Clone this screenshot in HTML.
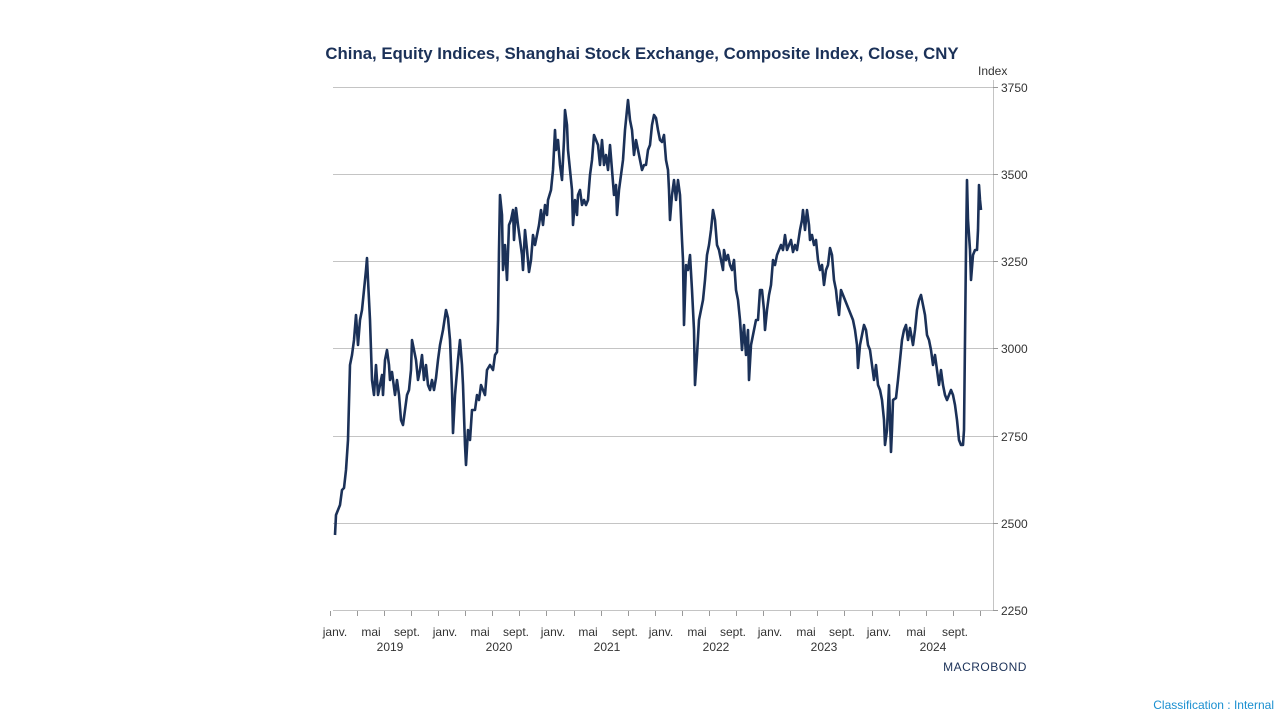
<!DOCTYPE html>
<html><head><meta charset="utf-8"><style>
body{margin:0;background:#fff;width:1280px;height:720px;overflow:hidden;font-family:"Liberation Sans",sans-serif}
</style></head><body>
<svg width="1280" height="720" xmlns="http://www.w3.org/2000/svg" font-family="Liberation Sans, sans-serif">
<text x="642" y="59" text-anchor="middle" font-size="16.8" font-weight="bold" fill="#1b3158">China, Equity Indices, Shanghai Stock Exchange, Composite Index, Close, CNY</text>
<text x="978" y="75" font-size="12" fill="#333">Index</text>
<g stroke="#c4c4c4" stroke-width="1">
<line x1="333" y1="87.5" x2="993" y2="87.5"/><line x1="333" y1="174.5" x2="993" y2="174.5"/>
<line x1="333" y1="261.5" x2="993" y2="261.5"/><line x1="333" y1="348.5" x2="993" y2="348.5"/>
<line x1="333" y1="436.5" x2="993" y2="436.5"/><line x1="333" y1="523.5" x2="993" y2="523.5"/>
<line x1="333" y1="610.5" x2="993" y2="610.5"/>
<line x1="993.5" y1="80" x2="993.5" y2="611"/>
</g>
<g stroke="#999" stroke-width="1">
<line x1="993" y1="87.5" x2="998" y2="87.5"/><line x1="993" y1="174.5" x2="998" y2="174.5"/><line x1="993" y1="261.5" x2="998" y2="261.5"/><line x1="993" y1="348.5" x2="998" y2="348.5"/><line x1="993" y1="436.5" x2="998" y2="436.5"/><line x1="993" y1="523.5" x2="998" y2="523.5"/><line x1="993" y1="610.5" x2="998" y2="610.5"/>
<line x1="330.5" y1="611" x2="330.5" y2="616"/><line x1="357.5" y1="611" x2="357.5" y2="616"/><line x1="384.5" y1="611" x2="384.5" y2="616"/><line x1="411.5" y1="611" x2="411.5" y2="616"/><line x1="438.5" y1="611" x2="438.5" y2="616"/><line x1="465.5" y1="611" x2="465.5" y2="616"/><line x1="492.5" y1="611" x2="492.5" y2="616"/><line x1="519.5" y1="611" x2="519.5" y2="616"/><line x1="546.5" y1="611" x2="546.5" y2="616"/><line x1="574.5" y1="611" x2="574.5" y2="616"/><line x1="601.5" y1="611" x2="601.5" y2="616"/><line x1="628.5" y1="611" x2="628.5" y2="616"/><line x1="655.5" y1="611" x2="655.5" y2="616"/><line x1="682.5" y1="611" x2="682.5" y2="616"/><line x1="709.5" y1="611" x2="709.5" y2="616"/><line x1="736.5" y1="611" x2="736.5" y2="616"/><line x1="763.5" y1="611" x2="763.5" y2="616"/><line x1="790.5" y1="611" x2="790.5" y2="616"/><line x1="817.5" y1="611" x2="817.5" y2="616"/><line x1="844.5" y1="611" x2="844.5" y2="616"/><line x1="872.5" y1="611" x2="872.5" y2="616"/><line x1="899.5" y1="611" x2="899.5" y2="616"/><line x1="926.5" y1="611" x2="926.5" y2="616"/><line x1="953.5" y1="611" x2="953.5" y2="616"/><line x1="980.5" y1="611" x2="980.5" y2="616"/>
</g>
<g font-size="12" fill="#333">
<text x="1001" y="92">3750</text><text x="1001" y="179">3500</text><text x="1001" y="266">3250</text><text x="1001" y="353">3000</text><text x="1001" y="441">2750</text><text x="1001" y="528">2500</text><text x="1001" y="615">2250</text>
</g>
<g font-size="12" fill="#333" text-anchor="middle">
<text x="335" y="636">janv.</text><text x="371" y="636">mai</text><text x="407" y="636">sept.</text>
<text x="445" y="636">janv.</text><text x="480" y="636">mai</text><text x="516" y="636">sept.</text>
<text x="553" y="636">janv.</text><text x="588" y="636">mai</text><text x="625" y="636">sept.</text>
<text x="661" y="636">janv.</text><text x="697" y="636">mai</text><text x="733" y="636">sept.</text>
<text x="770" y="636">janv.</text><text x="806" y="636">mai</text><text x="842" y="636">sept.</text>
<text x="879" y="636">janv.</text><text x="916" y="636">mai</text><text x="955" y="636">sept.</text>
<text x="390" y="651">2019</text><text x="499" y="651">2020</text><text x="607" y="651">2021</text><text x="716" y="651">2022</text><text x="824" y="651">2023</text><text x="933" y="651">2024</text>
</g>
<polyline fill="none" stroke="#1b3158" stroke-width="2.6" stroke-linejoin="round" points="335,535 336,515 340,505 342,490 344,488 346,470 348,440 350,365 352,355 354,340 356,315 358,345 360,320 362,310 364,290 366,270 367,258 368,280 370,320 371,350 372,380 374,395 376,365 378,395 380,385 382,375 383,395 385,360 387,350 389,365 390,380 392,372 395,395 397,380 399,395 401,420 403,425 405,410 407,395 409,390 411,370 412,340 414,350 416,360 418,380 420,370 422,355 424,380 426,365 428,385 430,390 432,380 434,390 436,378 438,360 440,345 443,330 446,310 448,318 450,340 452,390 453,433 455,395 458,360 460,340 462,365 463,385 465,445 466,465 468,430 470,440 472,410 475,410 477,395 479,400 481,385 483,390 485,395 487,370 490,365 493,370 495,355 497,352 498,320 499,250 500,195 502,215 503,270 505,245 507,280 509,225 511,220 513,210 514,240 516,208 518,225 520,240 522,255 523,270 525,230 527,250 529,272 531,260 533,235 535,245 537,235 539,225 541,210 543,225 545,205 547,215 548,200 551,190 553,170 555,130 556,150 558,140 560,165 562,180 564,140 565,110 567,125 568,150 570,170 572,190 573,225 575,200 577,215 578,195 580,190 582,205 584,200 586,205 588,200 590,175 592,160 594,135 596,140 598,145 600,165 602,140 604,165 606,155 608,170 610,145 612,170 614,195 616,185 617,215 619,190 621,175 623,160 625,130 627,110 628,100 630,120 632,130 634,155 636,140 638,150 640,160 642,170 644,165 646,165 648,150 650,145 652,125 654,115 656,118 658,130 660,140 662,142 664,135 666,160 668,170 669,190 670,220 672,195 674,180 676,200 678,180 680,195 682,240 683,260 684,325 686,265 688,270 690,255 692,290 694,330 695,385 697,355 699,320 701,310 703,300 705,280 707,255 709,245 711,230 713,210 715,220 717,245 719,250 721,260 723,270 724,250 726,260 728,255 730,265 732,270 734,260 736,290 738,300 740,320 742,350 744,325 746,355 748,330 749,380 751,345 753,335 756,320 758,320 760,290 762,290 764,310 765,330 767,310 769,295 771,285 773,260 775,265 777,255 779,250 781,245 783,250 785,235 787,250 789,245 791,240 793,252 795,245 797,250 800,230 802,220 803,210 805,230 807,210 809,225 810,240 812,235 814,245 816,240 818,260 820,270 822,265 824,285 826,270 828,265 830,248 832,255 834,280 836,290 837,300 839,315 841,290 843,295 845,300 847,305 849,310 851,315 853,320 855,330 857,345 858,368 860,345 862,335 864,325 866,330 868,345 870,350 872,365 874,380 876,365 878,385 880,390 882,400 884,420 885,445 887,430 889,385 891,452 892,430 893,400 896,398 898,380 900,360 902,340 904,330 906,325 908,340 910,328 913,345 915,330 917,310 919,300 921,295 923,305 925,315 927,335 929,340 931,350 933,365 935,355 937,370 939,385 941,370 943,385 945,395 947,400 949,395 951,390 953,395 955,405 957,420 959,440 961,445 963,445 964,430 966,250 967,180 968,220 970,250 971,280 973,255 975,250 977,250 978,230 979,185 980,200 981,210"/>
<text x="985" y="671" text-anchor="middle" font-size="12" fill="#1b3158" letter-spacing="0.5">MACROBOND</text>
<text x="1274" y="709" text-anchor="end" font-size="12" fill="#1a8fd0">Classification : Internal</text>
</svg>
</body></html>
